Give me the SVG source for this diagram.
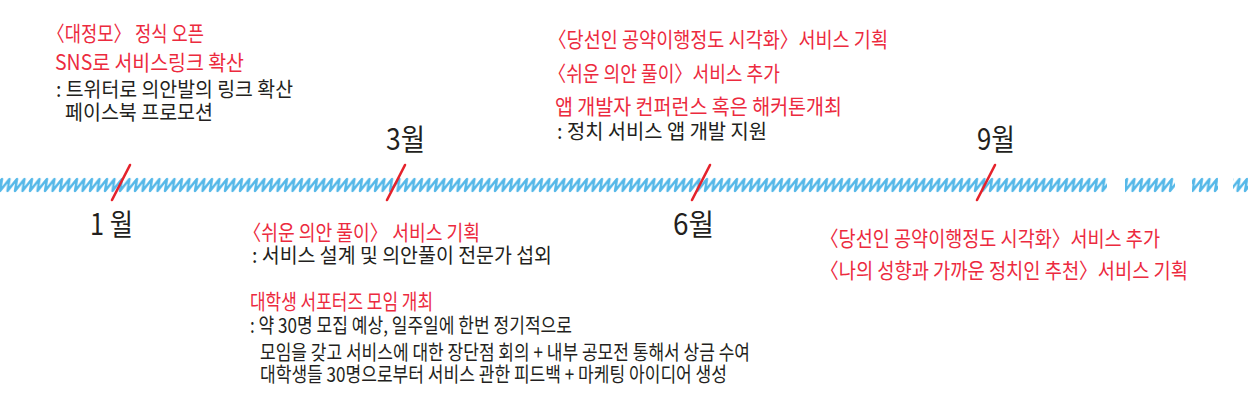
<svg xmlns="http://www.w3.org/2000/svg" width="1260" height="409" viewBox="0 0 1260 409">
  <style>
    text { font-family: "Noto Sans CJK KR", "Noto Sans", sans-serif; font-size: 21px; }
    .r { fill: #ec2a3e; }
    .k { fill: #231f20; font-size: 20.5px; }
    .m { fill: #231f20; font-size: 30px; }
    .tick { stroke: #e5222b; stroke-width: 2.6; stroke-linecap: round; }
  </style>
  <defs>
    <pattern id="zz" patternUnits="userSpaceOnUse" x="0" y="177" width="7.5" height="16">
      <path d="M-7.5,14 L2,2 L0,14 L9.5,2 L7.5,14 L17,2" fill="none" stroke="#55b8e8" stroke-width="2.4" stroke-linejoin="round"/>
    </pattern>
  </defs>
  <rect width="1260" height="409" fill="#ffffff"/>

  <g id="timeline">
    <rect x="0" y="177" width="1107" height="16" fill="url(#zz)"/>
    <rect x="1125" y="177" width="50" height="16" fill="url(#zz)"/>
    <rect x="1192" y="177" width="26" height="16" fill="url(#zz)"/>
    <rect x="1233" y="177" width="15" height="16" fill="url(#zz)"/>
  </g>

  <g id="connectors">
    <line class="tick" x1="130" y1="165" x2="112" y2="200"/>
    <line class="tick" x1="405" y1="165" x2="387" y2="200"/>
    <line class="tick" x1="710" y1="165" x2="692" y2="200"/>
    <line class="tick" x1="995" y1="165" x2="977" y2="200"/>
  </g>

  <g id="month-1"><text class="m" x="90" y="235" textLength="43" lengthAdjust="spacingAndGlyphs">1 월</text></g>
  <g id="month-3"><text class="m" x="386" y="150" textLength="39" lengthAdjust="spacingAndGlyphs">3월</text></g>
  <g id="month-6"><text class="m" x="673" y="235" textLength="41" lengthAdjust="spacingAndGlyphs">6월</text></g>
  <g id="month-9"><text class="m" x="977" y="150" textLength="38" lengthAdjust="spacingAndGlyphs">9월</text></g>

  <g id="jan-note">
    <text class="r" x="47" y="41" textLength="157" lengthAdjust="spacingAndGlyphs">〈대정모〉 정식 오픈</text>
    <text class="r" x="55" y="70" textLength="189" lengthAdjust="spacingAndGlyphs">SNS로 서비스링크 확산</text>
    <text class="k" x="56" y="97" textLength="237" lengthAdjust="spacingAndGlyphs">: 트위터로 의안발의 링크 확산</text>
    <text class="k" x="65" y="120" textLength="148" lengthAdjust="spacingAndGlyphs">페이스북 프로모션</text>
  </g>

  <g id="mar-note">
    <text class="r" x="243" y="240" textLength="237" lengthAdjust="spacingAndGlyphs">〈쉬운 의안 풀이〉 서비스 기획</text>
    <text class="k" x="252" y="263" textLength="300" lengthAdjust="spacingAndGlyphs">: 서비스 설계 및 의안풀이 전문가 섭외</text>
  </g>

  <g id="supporters-note">
    <text class="r" x="250" y="309" textLength="183" lengthAdjust="spacingAndGlyphs">대학생 서포터즈 모임 개최</text>
    <text class="k" x="250" y="333" textLength="322" lengthAdjust="spacingAndGlyphs">: 약 30명 모집 예상, 일주일에 한번 정기적으로</text>
    <text class="k" x="260" y="360" textLength="490" lengthAdjust="spacingAndGlyphs">모임을 갖고 서비스에 대한 장단점 회의 + 내부 공모전 통해서 상금 수여</text>
    <text class="k" x="260" y="382" textLength="467" lengthAdjust="spacingAndGlyphs">대학생들 30명으로부터 서비스 관한 피드백 + 마케팅 아이디어 생성</text>
  </g>

  <g id="jun-note">
    <text class="r" x="548" y="47" textLength="340" lengthAdjust="spacingAndGlyphs">〈당선인 공약이행정도 시각화〉서비스 기획</text>
    <text class="r" x="548" y="81" textLength="232" lengthAdjust="spacingAndGlyphs">〈쉬운 의안 풀이〉서비스 추가</text>
    <text class="r" x="555" y="114" textLength="287" lengthAdjust="spacingAndGlyphs">앱 개발자 컨퍼런스 혹은 해커톤개최</text>
    <text class="k" x="557" y="139" textLength="210" lengthAdjust="spacingAndGlyphs">: 정치 서비스 앱 개발 지원</text>
  </g>

  <g id="sep-note">
    <text class="r" x="820" y="246" textLength="340" lengthAdjust="spacingAndGlyphs">〈당선인 공약이행정도 시각화〉서비스 추가</text>
    <text class="r" x="820" y="278" textLength="368" lengthAdjust="spacingAndGlyphs">〈나의 성향과 가까운 정치인 추천〉서비스 기획</text>
  </g>
</svg>
